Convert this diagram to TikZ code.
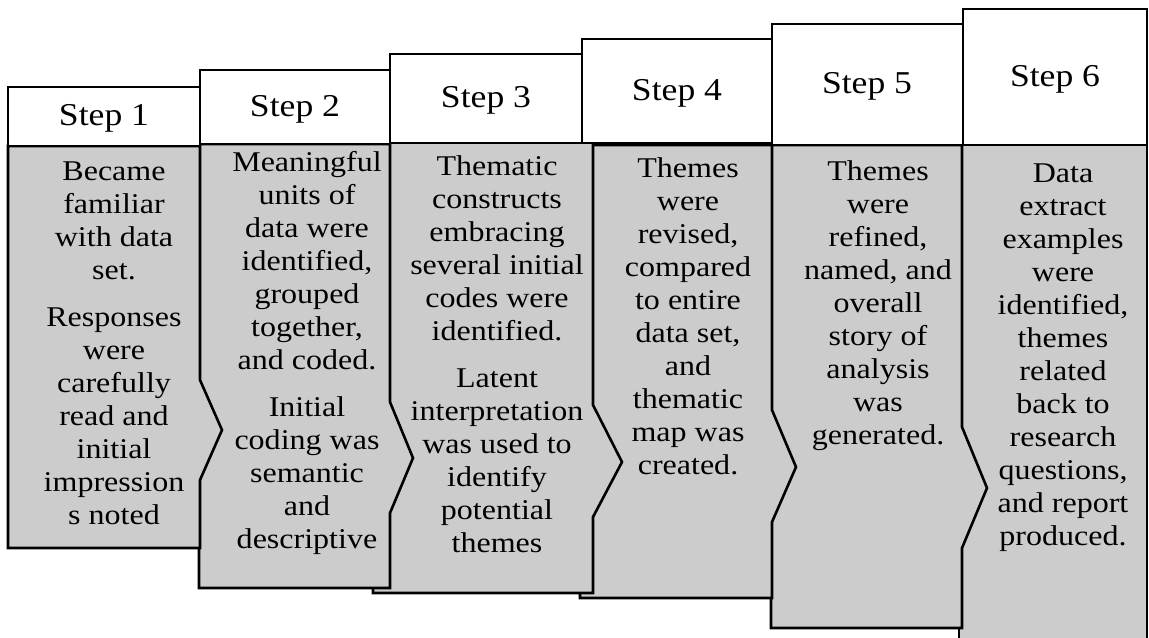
\documentclass[tikz,border=0pt]{standalone}
\usepackage{fontspec}
\setmainfont{Liberation Serif}[FakeStretch=1.12]
\newfontfamily\headfont{Liberation Serif}[FakeStretch=1.12]
\definecolor{boxgrey}{HTML}{CCCCCC}

\begin{document}
\begin{tikzpicture}[x=0.5pt, y=-0.5pt, line width=1.3pt,
        body/.style = {fill=boxgrey, draw=black, line join=miter},
        head/.style = {fill=white, draw=black},
        steplabel/.style = {inner sep=0pt, font=\headfont\fontsize{15.9}{18}\selectfont},
        bodytext/.style = {align=center, anchor=north, inner sep=0pt, font=\fontsize{14.3}{16.5}\selectfont}]
                \useasboundingbox (0,0) rectangle (1149,637);
                % grey bodies, the last step at the back
                \draw[body] (959,145) -- (1147,145) -- (1147,660) -- (959,660) -- cycle;
                \draw[body] (771,145) -- (962,145) -- (962,427) -- (987,488) -- (962,548) -- (962,628) -- (771,628) -- cycle;
                \draw[body] (580,145) -- (772,145) -- (772,410) -- (796,467) -- (772,522) -- (772,598) -- (580,598) -- cycle;
                \draw[body] (373,142) -- (593,142) -- (593,405) -- (622,462) -- (593,517) -- (593,593) -- (373,593) -- cycle;
                \draw[body] (199,144) -- (390,144) -- (390,402) -- (413,458) -- (390,513) -- (390,588) -- (199,588) -- cycle;
                \draw[body] (8,146) -- (200,146) -- (200,380) -- (222,430) -- (200,480) -- (200,548) -- (8,548) -- cycle;
                % white headers
                \draw[head] (8,87) rectangle (200,146);
                \draw[head] (200,70) rectangle (390,144);
                \draw[head] (390,54) rectangle (582,143);
                \draw[head] (582,39) rectangle (772,143);
                \draw[head] (772,24) rectangle (963,145);
                \draw[head] (963,9) rectangle (1147,145);
                \node[steplabel] (s1) at (104,118) {Step 1};
                \node[steplabel] (s2) at (295,109) {Step 2};
                \node[steplabel] (s3) at (486,100) {Step 3};
                \node[steplabel] (s4) at (677,93) {Step 4};
                \node[steplabel] (s5) at (867,86) {Step 5};
                \node[steplabel] (s6) at (1055,79) {Step 6};
                % texts
                \node[bodytext] (t1) at (114,160) {Became\\familiar\\with data\\set.\\[7pt]Responses\\were\\carefully\\read and\\initial\\impression\\s noted};
                \node[bodytext] (t2) at (307,150) {Meaningful\\units of\\data were\\identified,\\grouped\\together,\\and coded.\\[7pt]Initial\\coding was\\semantic\\and\\descriptive};
                \node[bodytext] (t3) at (497,154) {Thematic\\constructs\\embracing\\several initial\\codes were\\identified.\\[7pt]Latent\\interpretation\\was used to\\identify\\potential\\themes};
                \node[bodytext] (t4) at (688,156) {Themes\\were\\revised,\\compared\\to entire\\data set,\\and\\thematic\\map was\\created.};
                \node[bodytext] (t5) at (878,159) {Themes\\were\\refined,\\named, and\\overall\\story of\\analysis\\was\\generated.};
                \node[bodytext] (t6) at (1063,162) {Data\\extract\\examples\\were\\identified,\\themes\\related\\back to\\research\\questions,\\and report\\produced.};
            \end{tikzpicture}
\end{document}
